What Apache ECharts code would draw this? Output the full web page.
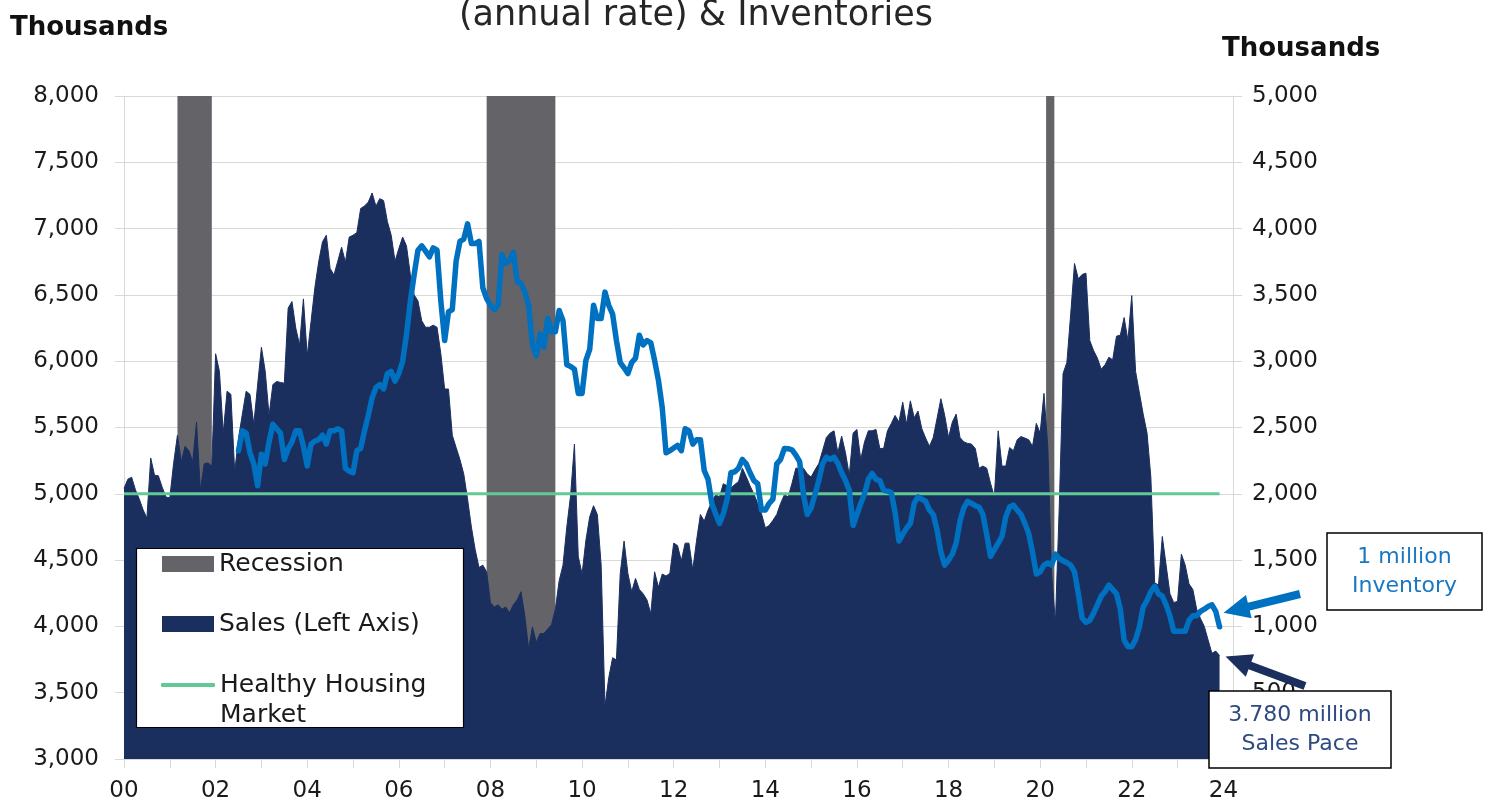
<!DOCTYPE html>
<html>
<head>
	<meta charset="utf-8">
	<title>existing home sales & inventories</title>
	<style>
		html, body {
			margin: 0;
			padding: 0;
			background: #ffffff;
		}
		#chart {
			width: 1486px;
			height: 805px;
		}
	</style>
	<script src="https://cdn.jsdelivr.net/npm/echarts@6/dist/echarts.min.js"></script>
</head>
<body>

<div id="chart"></div>

<script>

// monthly sales pace (thousands, annual rate), Jan 2000 - Dec 2023
var sales00_03 = [
	5040, 5110, 5125, 5030, 4960, 4880, 4817, 5270, 5140, 5136, 5050, 4975,
	4970, 5230, 5442, 5242, 5358, 5325, 5242, 5541, 5023, 5226, 5233, 5209,
	6056, 5923, 5458, 5774, 5750, 5166, 5420, 5600, 5774, 5750, 5525, 5820,
	6106, 5923, 5591, 5824, 5847, 5840, 5834, 6400, 6450, 6250, 6122, 6470
];
var sales04_07 = [
	6040, 6300, 6555, 6750, 6900, 6950, 6700, 6650, 6754, 6860, 6747, 6936,
	6950, 6970, 7152, 7170, 7200, 7269, 7169, 7226, 7212, 7053, 6950, 6754,
	6850, 6936, 6870, 6654, 6500, 6455, 6305, 6256, 6256, 6272, 6256, 6056,
	5790, 5790, 5442, 5350, 5259, 5150, 4960, 4750, 4578, 4445, 4462, 4412
];
var sales08_11 = [
	4179, 4146, 4163, 4130, 4146, 4103, 4163, 4200, 4262, 4080, 3830, 3996,
	3880, 3946, 3946, 3980, 4013, 4130, 4345, 4462, 4750, 4990, 5375, 4528,
	4395, 4650, 4827, 4910, 4844, 4462, 3399, 3615, 3764, 3747, 4400, 4644,
	4400, 4262, 4362, 4279, 4246, 4200, 4096, 4412, 4296, 4395, 4380, 4400
];
var sales12_15 = [
	4628, 4610, 4495, 4628, 4628, 4428, 4650, 4844, 4794, 4877, 4940, 4993,
	4977, 5076, 5060, 5043, 5070, 5093, 5193, 5130, 5060, 5000, 4927, 4850,
	4744, 4761, 4800, 4844, 4927, 4993, 4977, 5080, 5193, 5193, 5193, 5150,
	5126, 5180, 5226, 5325, 5425, 5458, 5475, 5310, 5435, 5310, 5140, 5458
];
var sales16_19 = [
	5485, 5259, 5392, 5475, 5475, 5485, 5342, 5342, 5475, 5530, 5591, 5541,
	5691, 5525, 5701, 5574, 5624, 5491, 5420, 5358, 5425, 5570, 5717, 5591,
	5425, 5541, 5601, 5425, 5392, 5380, 5375, 5342, 5193, 5209, 5193, 5080,
	4977, 5475, 5209, 5209, 5349, 5325, 5408, 5432, 5420, 5408, 5358, 5531
];
var sales20_23 = [
	5458, 5757, 5358, 4400, 4030, 4900, 5907, 5990, 6355, 6737, 6621, 6654,
	6664, 6156, 6080, 6023, 5940, 5973, 6030, 6010, 6189, 6196, 6329, 6156,
	6495, 5923, 5760, 5600, 5458, 5126, 4329, 4312, 4678, 4462, 4246, 4179,
	4190, 4545, 4462, 4320, 4279, 4130, 4060, 4000, 3897, 3797, 3814, 3780
];

// monthly inventory (thousands), Jul 2002 - Dec 2023
var invStart = 2002.5;
var inv02_03 = [
	2325, 2475, 2458, 2309, 2226, 2060,
	2299, 2226, 2392, 2525, 2491, 2458, 2259, 2340, 2392, 2475, 2475, 2359
];
var inv04_07 = [
	2209, 2375, 2398, 2408, 2442, 2375, 2475, 2475, 2491, 2475, 2193, 2170,
	2159, 2325, 2342, 2475, 2591, 2724, 2800, 2824, 2791, 2907, 2923, 2850,
	2907, 3000, 3200, 3450, 3650, 3837, 3870, 3830, 3787, 3854, 3837, 3455,
	3156, 3372, 3389, 3754, 3903, 3920, 4036, 3887, 3887, 3903, 3554, 3472
];
var inv08_11 = [
	3422, 3389, 3422, 3804, 3737, 3760, 3820, 3600, 3588, 3521, 3422, 3123,
	3040, 3206, 3106, 3322, 3222, 3222, 3382, 3306, 2973, 2960, 2940, 2757,
	2757, 3006, 3089, 3422, 3322, 3322, 3521, 3420, 3355, 3156, 2990, 2950,
	2907, 2990, 3023, 3196, 3123, 3156, 3139, 3006, 2857, 2650, 2309, 2325
];
var inv12_15 = [
	2345, 2365, 2325, 2491, 2475, 2375, 2408, 2408, 2176, 2109, 1927, 1850,
	1777, 1850, 1960, 2159, 2166, 2193, 2259, 2226, 2159, 2100, 2076, 1877,
	1877, 1927, 1960, 2226, 2259, 2342, 2340, 2332, 2292, 2242, 1993, 1844,
	1894, 1993, 2100, 2226, 2276, 2259, 2276, 2230, 2159, 2100, 2026, 1761
];
var inv16_19 = [
	1844, 1927, 2000, 2109, 2153, 2109, 2100, 2026, 2020, 2010, 1860, 1644,
	1694, 1740, 1777, 1927, 1977, 1960, 1943, 1877, 1844, 1727, 1561, 1462,
	1500, 1545, 1628, 1794, 1894, 1943, 1927, 1910, 1900, 1844, 1694, 1528,
	1578, 1628, 1678, 1827, 1900, 1915, 1877, 1844, 1777, 1700, 1560, 1395
];
var inv20_23 = [
	1412, 1462, 1478, 1462, 1545, 1511, 1495, 1480, 1462, 1412, 1246, 1063,
	1030, 1046, 1100, 1163, 1229, 1262, 1312, 1279, 1246, 1130, 897, 847,
	847, 900, 997, 1146, 1196, 1262, 1302, 1246, 1229, 1163, 1080, 963,
	963, 963, 963, 1046, 1080, 1080, 1113, 1130, 1150, 1163, 1113, 997
];

var healthyLevel = 5000;
var recessionStart = [2001.167, 2007.917, 2020.13];
var recessionEnd = [2001.917, 2009.417, 2020.31];

var leftMin = 3000, leftMax = 8000;
var rightMin = 0, rightMax = 5000;
var tickStep = 500;

var FONT = 'DejaVu Sans';
var NAVY = '#1b2f5f';
var BLUE = '#0070c0';
var GREEN = '#62c995';
var GREY = '#646468';

var sales = [].concat(sales00_03, sales04_07, sales08_11, sales12_15, sales16_19, sales20_23);
var salesData = sales.map(function (v, i) {
	return [2000 + i / 12, v];
});
var inv = [].concat(inv02_03, inv04_07, inv08_11, inv12_15, inv16_19, inv20_23);
var invData = inv.map(function (v, i) {
	return [invStart + i / 12, v];
});
var lastX = salesData[salesData.length - 1][0];

var recessionAreas = recessionStart.map(function (s, i) {
	return [{ xAxis: s }, { xAxis: recessionEnd[i] }];
});

function thousands (v) {
	return v.toLocaleString('en-US');
}

var chart = echarts.init(document.getElementById('chart'));

var option = {
	animation: false,
	textStyle: { fontFamily: FONT },
	grid: { left: 124, right: 253, top: 96, bottom: 46 },
	xAxis: {
		type: 'value',
		min: 2000,
		max: 2024.21,
		interval: 1,
		axisLine: { lineStyle: { color: '#d9d9d9' } },
		axisTick: { length: 9, lineStyle: { color: '#d9d9d9' } },
		splitLine: { show: false },
		axisLabel: {
			margin: 21,
			fontSize: 23,
			color: '#1a1a1a',
			showMaxLabel: false,
			formatter: function (v) {
				return (v % 2 === 0) ? String(v).slice(2) : '';
			}
		}
	},
	yAxis: [{
		type: 'value',
		min: leftMin,
		max: leftMax,
		interval: tickStep,
		position: 'left',
		axisLine: { show: true, lineStyle: { color: '#d9d9d9' } },
		axisTick: { show: true, length: 9, lineStyle: { color: '#d9d9d9' } },
		splitLine: { lineStyle: { color: '#d9d9d9' } },
		axisLabel: { margin: 25, fontSize: 23, color: '#1a1a1a', formatter: thousands }
	}, {
		type: 'value',
		min: rightMin,
		max: rightMax,
		interval: tickStep,
		position: 'right',
		axisLine: { show: true, lineStyle: { color: '#d9d9d9' } },
		axisTick: { show: true, length: 9, lineStyle: { color: '#d9d9d9' } },
		splitLine: { show: false },
		axisLabel: { margin: 19, fontSize: 23, color: '#1a1a1a', formatter: thousands }
	}],
	legend: [{
		orient: 'vertical',
		left: 162,
		top: 549,
		padding: 0,
		z: 6,
		itemWidth: 52,
		itemHeight: 16,
		itemGap: 30,
		selectedMode: false,
		textStyle: { fontSize: 25, lineHeight: 30, color: '#1a1a1a' },
		data: [
			{ name: 'Recession', icon: 'rect', itemStyle: { color: GREY, borderWidth: 0 } },
			{ name: 'Sales (Left Axis)', icon: 'rect', itemStyle: { color: NAVY, borderWidth: 0 } }
		]
	}, {
		orient: 'vertical',
		left: 161,
		top: 640,
		padding: 0,
		z: 6,
		itemWidth: 54,
		itemHeight: 4,
		selectedMode: false,
		textStyle: { fontSize: 25, lineHeight: 30, color: '#1a1a1a' },
		// blank first line keeps the icon level with "Healthy Housing"
		formatter: function (name) {
			return '\n' + name.replace(' Market', '\nMarket');
		},
		data: [
			{ name: 'Healthy Housing Market', icon: 'roundRect', itemStyle: { color: GREEN, borderWidth: 0 } }
		]
	}],
	series: [{
		name: 'Recession',
		type: 'line',
		data: [],
		itemStyle: { color: GREY },
		markArea: {
			silent: true,
			itemStyle: { color: GREY, opacity: 1 },
			data: recessionAreas
		}
	}, {
		name: 'Sales (Left Axis)',
		type: 'line',
		yAxisIndex: 0,
		data: salesData,
		symbol: 'none',
		z: 2,
		itemStyle: { color: NAVY },
		lineStyle: { color: NAVY, width: 1 },
		areaStyle: { color: NAVY, opacity: 1, origin: 'start' }
	}, {
		name: 'Healthy Housing Market',
		type: 'line',
		yAxisIndex: 0,
		data: [[2000, healthyLevel], [lastX, healthyLevel]],
		symbol: 'none',
		z: 3,
		itemStyle: { color: GREEN },
		lineStyle: { color: GREEN, width: 3 }
	}, {
		name: 'Inventory',
		type: 'line',
		yAxisIndex: 1,
		data: invData,
		symbol: 'none',
		z: 4,
		itemStyle: { color: BLUE },
		lineStyle: { color: BLUE, width: 5.5, join: 'round', cap: 'round' }
	}]
};

chart.setOption(option);

function arrowPoints (tail, tip, w, headLen, headHalf) {
	var dx = tip[0] - tail[0], dy = tip[1] - tail[1];
	var len = Math.sqrt(dx * dx + dy * dy);
	var ux = dx / len, uy = dy / len;
	var nx = -uy, ny = ux;
	var bx = tip[0] - ux * headLen, by = tip[1] - uy * headLen;
	return [
		[tail[0] + nx * w / 2, tail[1] + ny * w / 2],
		[bx + nx * w / 2, by + ny * w / 2],
		[bx + nx * headHalf, by + ny * headHalf],
		tip,
		[bx - nx * headHalf, by - ny * headHalf],
		[bx - nx * w / 2, by - ny * w / 2],
		[tail[0] - nx * w / 2, tail[1] - ny * w / 2]
	];
}

var invEnd = chart.convertToPixel({ seriesIndex: 3 }, invData[invData.length - 1]);
var salesEnd = chart.convertToPixel({ seriesIndex: 1 }, salesData[salesData.length - 1]);
var invTip = [invEnd[0] + 4, invEnd[1] - 14];
var salesTip = [salesEnd[0] + 6, salesEnd[1] + 1];

chart.setOption({
	graphic: [{
		type: 'text',
		left: 10,
		top: 15,
		z: 10,
		style: { text: 'Thousands', font: 'bold 26px "DejaVu Sans"', fill: '#111' }
	}, {
		type: 'text',
		left: 1222,
		top: 36,
		z: 10,
		style: { text: 'Thousands', font: 'bold 26px "DejaVu Sans"', fill: '#111' }
	}, {
		type: 'text',
		x: 696,
		y: 16,
		z: 10,
		style: { text: '(annual rate) & Inventories', font: '35px "DejaVu Sans"', fill: '#262626', align: 'center', verticalAlign: 'middle' }
	}, {
		type: 'rect',
		z: 5,
		shape: { x: 136.5, y: 548.5, width: 327, height: 179 },
		style: { fill: '#fff', stroke: '#000', lineWidth: 1.2 }
	}, {
		type: 'polygon',
		z: 9,
		shape: { points: arrowPoints([1300, 594], invTip, 8, 26, 12) },
		style: { fill: BLUE }
	}, {
		type: 'polygon',
		z: 9,
		shape: { points: arrowPoints([1305, 686], salesTip, 8, 26, 12) },
		style: { fill: NAVY }
	}, {
		type: 'rect',
		z: 10,
		shape: { x: 1327, y: 533, width: 155, height: 77 },
		style: { fill: '#fff', stroke: '#000', lineWidth: 1.5 }
	}, {
		type: 'text',
		x: 1404.5,
		y: 572,
		z: 11,
		style: { text: '1 million\nInventory', font: '22px "DejaVu Sans"', lineHeight: 29, fill: '#1a78c2', align: 'center', verticalAlign: 'middle' }
	}, {
		type: 'rect',
		z: 10,
		shape: { x: 1209, y: 691, width: 182, height: 77 },
		style: { fill: '#fff', stroke: '#000', lineWidth: 1.5 }
	}, {
		type: 'text',
		x: 1300,
		y: 730,
		z: 11,
		style: { text: '3.780 million\nSales Pace', font: '22px "DejaVu Sans"', lineHeight: 29, fill: '#2f4a80', align: 'center', verticalAlign: 'middle' }
	}]
});

</script>
</body>
</html>
